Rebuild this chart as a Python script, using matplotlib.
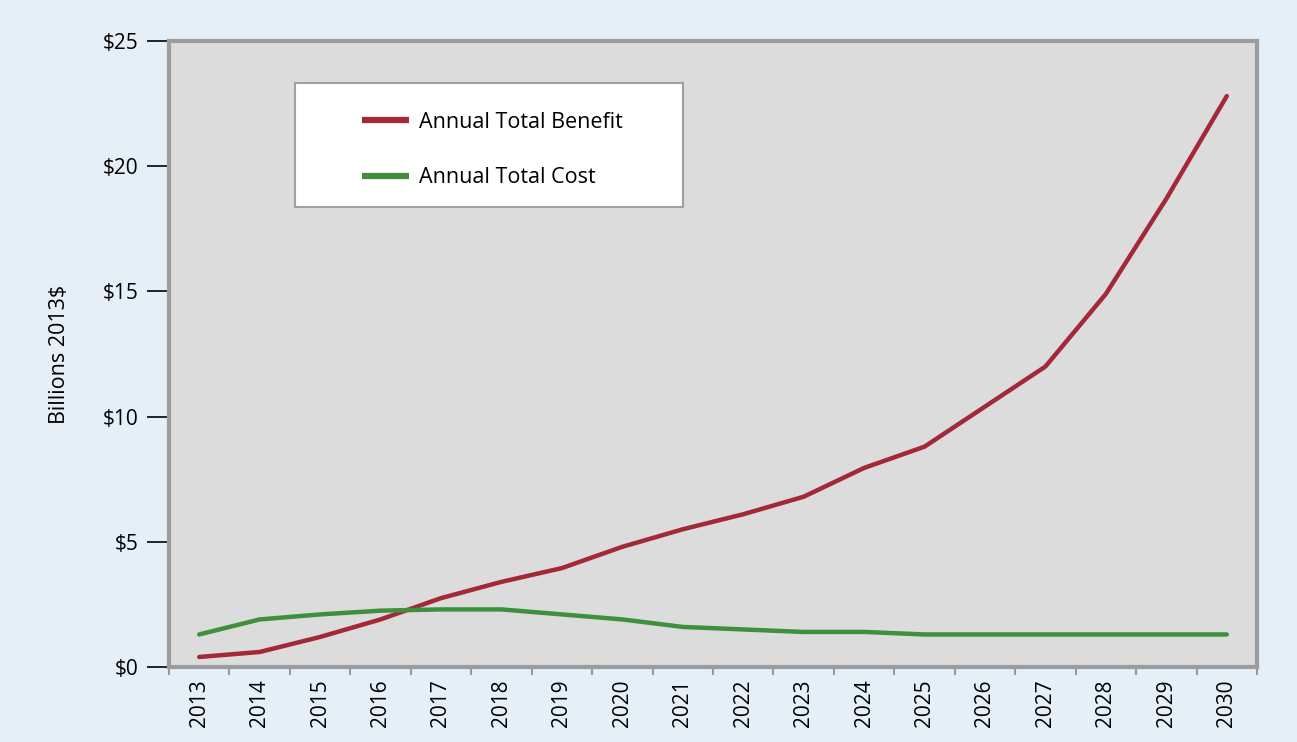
import numpy as np
import matplotlib.pyplot as plt
from matplotlib.patches import Rectangle

plt.rcParams['font.family'] = ['Open Sans', 'DejaVu Sans']

years = list(range(2013, 2031))
benefit = [0.4, 0.6, 1.2, 1.9, 2.75, 3.4, 3.95, 4.8, 5.5, 6.1, 6.8, 7.95, 8.8,
           10.4, 12.0, 14.9, 18.7, 22.8]
cost = [1.3, 1.9, 2.1, 2.25, 2.3, 2.3, 2.1, 1.9, 1.6, 1.5, 1.4, 1.4, 1.3,
        1.3, 1.3, 1.3, 1.3, 1.3]
y_ticks = [0, 5, 10, 15, 20, 25]
y_labels = ['$0', '$5', '$10', '$15', '$20', '$25']

# colours
fig_color = '#e5eff7'
ax_color = '#dcdcdc'
red = '#a32838'
green = '#3f8f3c'

W, H = 1297, 742
ax_l, ax_r, ax_t, ax_b = 169, 1257, 41, 667   # plot area in pixels
aw, ah = ax_r - ax_l, ax_b - ax_t

fig = plt.figure(figsize=(W / 100, H / 100), dpi=100)
fig.set_facecolor(fig_color)
ax = fig.add_axes([ax_l / W, 1 - ax_b / H, aw / W, ah / H])
ax.set_facecolor(ax_color)

x = np.arange(len(years)) + 0.5
ax.plot(x, benefit, color=red, lw=3.2, label='Annual Total Benefit', solid_capstyle='round')
ax.plot(x, cost, color=green, lw=3.2, label='Annual Total Cost', solid_capstyle='round')

ax.set_xlim(0, len(years))
ax.set_ylim(0, 25)

# category axis: tick marks at the boundaries, labels centred in between
ax.set_xticks(np.arange(len(years) + 1))
ax.set_xticklabels([])
ax.set_xticks(x, minor=True)
ax.set_xticklabels([str(y) for y in years], minor=True, rotation=90, fontsize=15)
ax.tick_params(axis='x', which='major', length=6, width=1.5, color='#999999', direction='out')
ax.tick_params(axis='x', which='minor', length=0, pad=9)

ax.set_yticks(y_ticks)
ax.set_yticklabels(y_labels, fontsize=15)
ax.tick_params(axis='y', length=16, width=1.2, color='black', direction='out', pad=6)

for side in ['top', 'right', 'bottom', 'left']:
    ax.spines[side].set_color('#9c9c9c')
    ax.spines[side].set_linewidth(3)

ax.set_ylabel('Billions 2013$', fontsize=15.5)
ax.yaxis.set_label_coords(-0.091, 0.5)

# legend box drawn separately so the entries can sit inside it like the original
box = Rectangle(((295 - ax_l) / aw, 1 - (207 - ax_t) / ah), 388 / aw, 124 / ah,
                transform=ax.transAxes, facecolor='white', edgecolor='#a0a0a0',
                lw=1.5, zorder=4)
ax.add_patch(box)
leg = ax.legend(loc='upper left', bbox_to_anchor=((362 - ax_l) / aw, 1 - (112 - ax_t) / ah),
                fontsize=15.5, frameon=False, handlelength=2.2, handletextpad=0.45,
                borderpad=0, borderaxespad=0, labelspacing=1.6)
leg.set_zorder(5)
for h in leg.get_lines():
    h.set_linewidth(4.5)
    h.set_solid_capstyle('butt')

plt.savefig('out.png', facecolor=fig_color)
